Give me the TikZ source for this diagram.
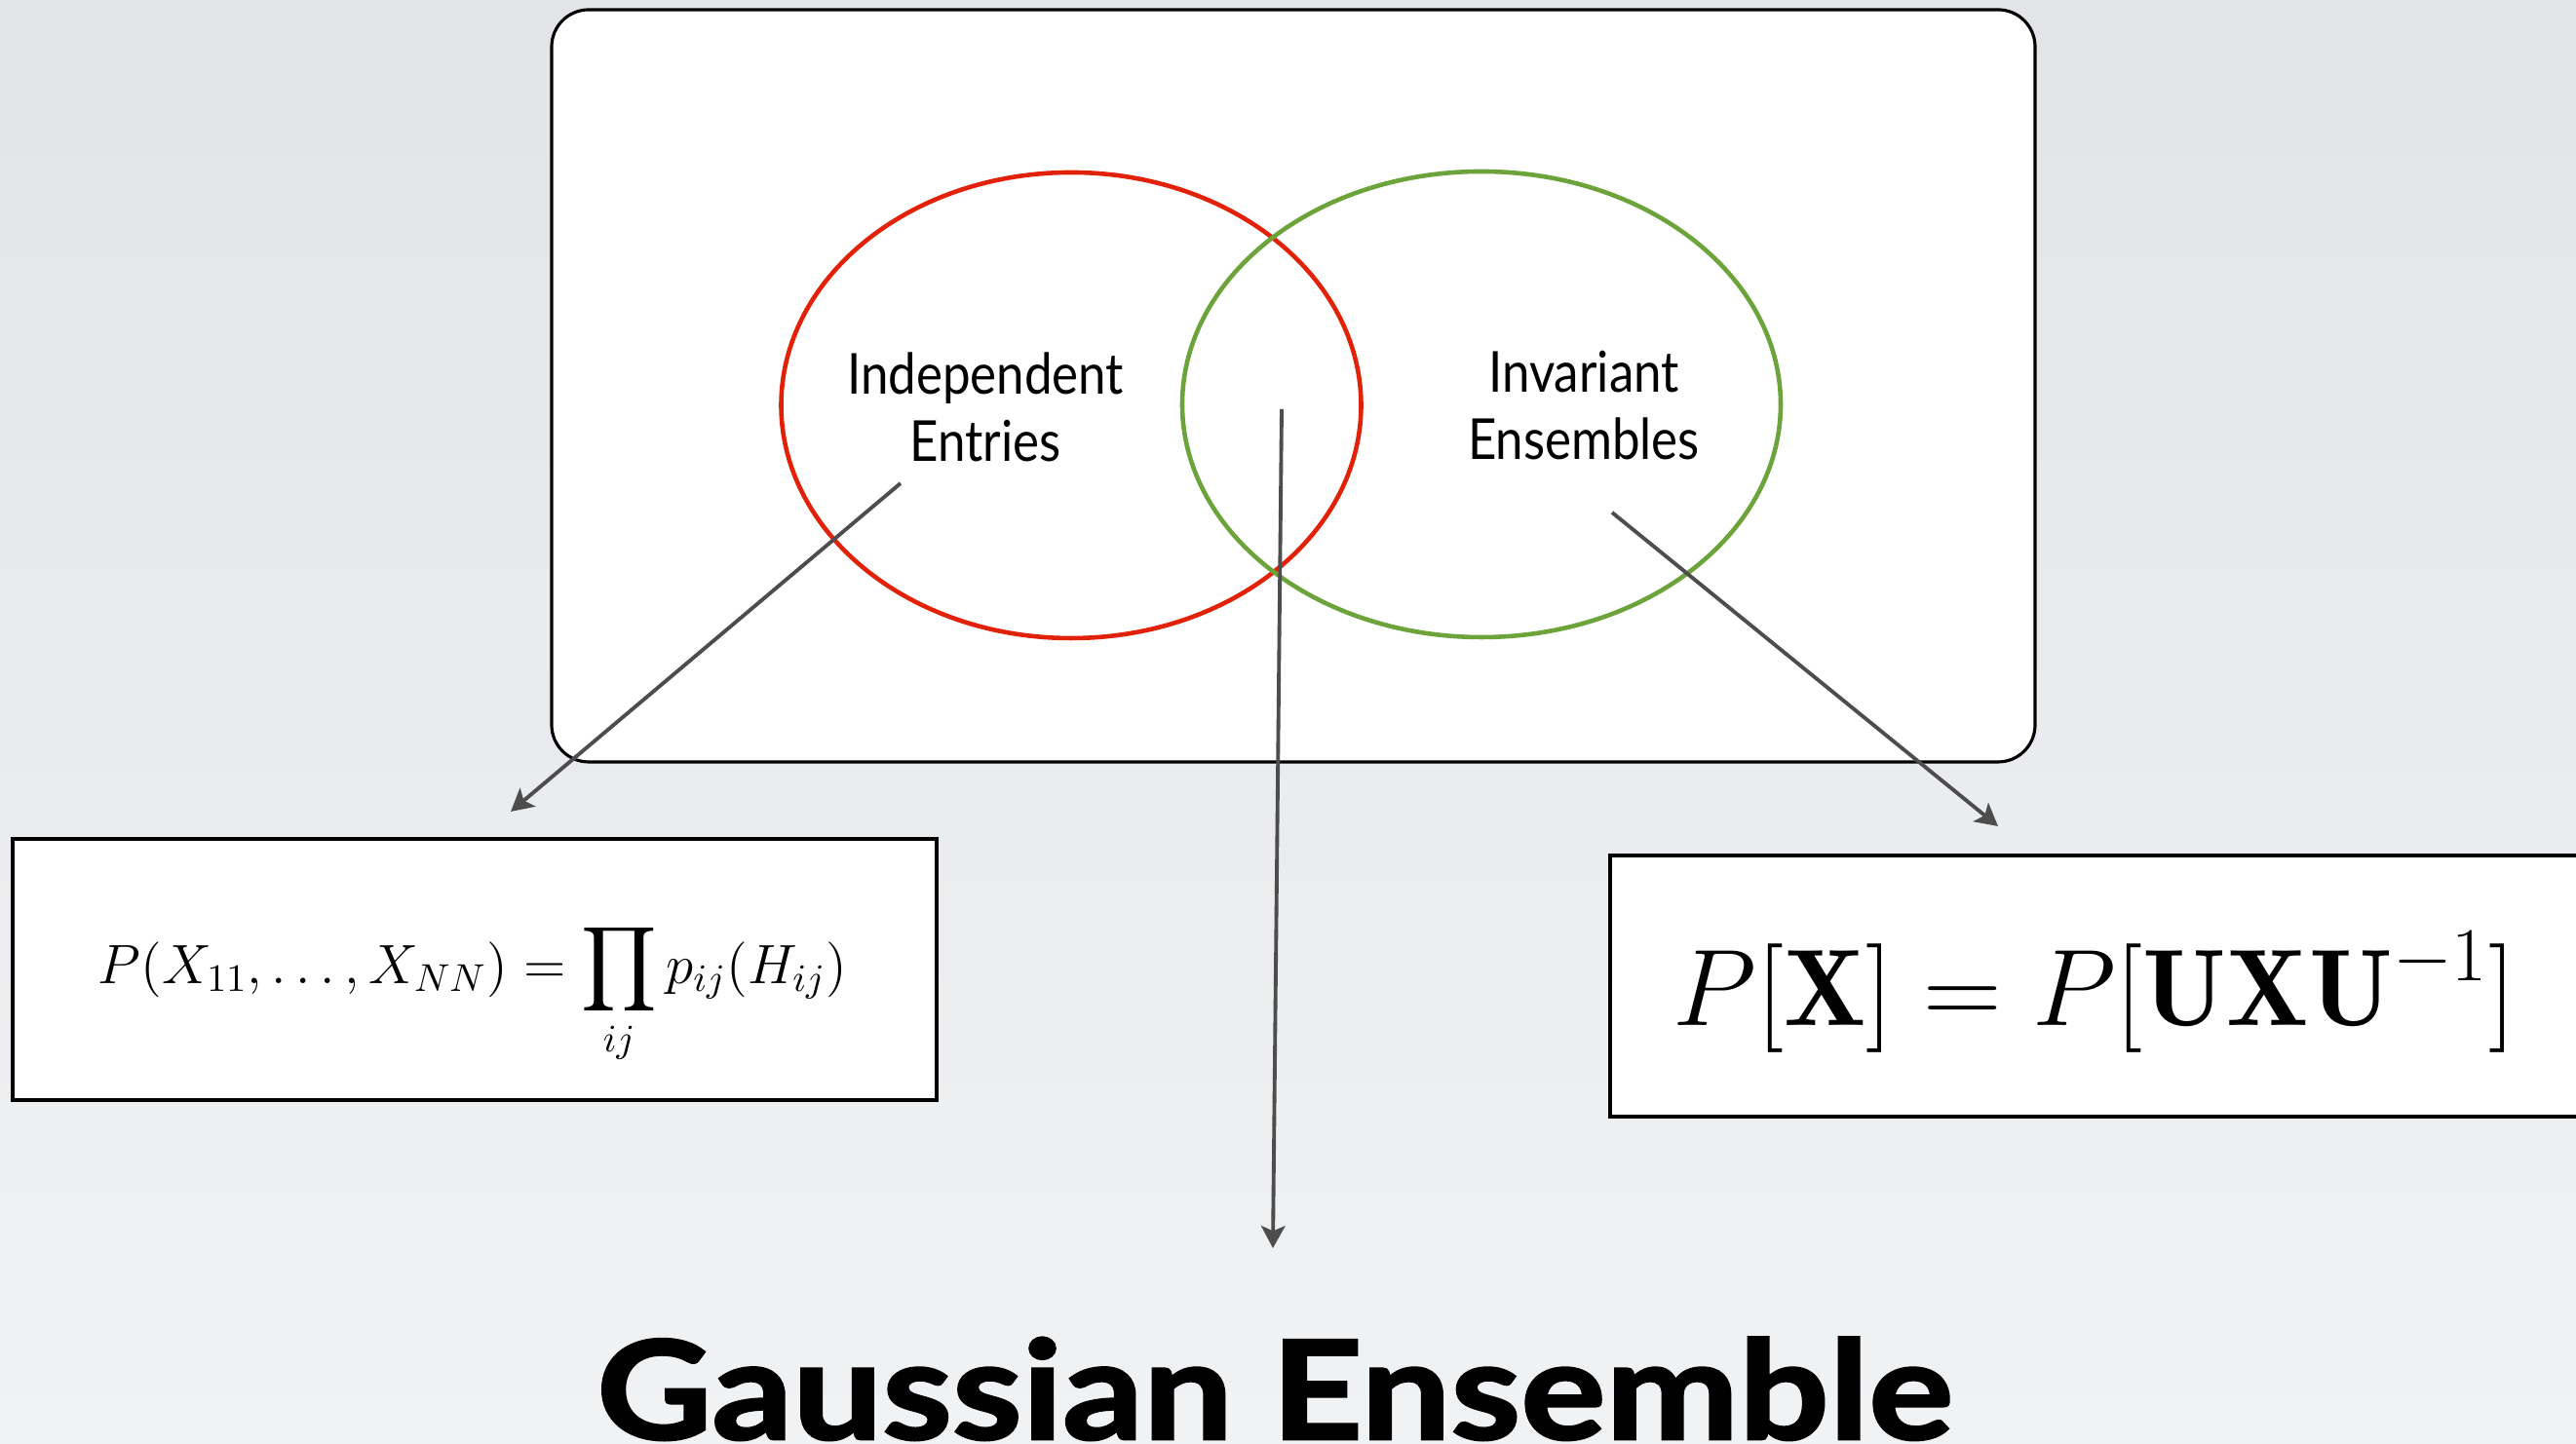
\RequirePackage{fix-cm}
\documentclass[tikz,border=0pt]{standalone}
\usepackage{amsmath}
\usepackage{fontspec}
\newfontfamily\vennfont[FakeStretch=0.88]{Lato}
\newfontfamily\titlefont[BoldFeatures={FakeBold=2, FakeStretch=1.16}]{Lato}
\usetikzlibrary{positioning, arrows.meta, shapes.geometric}
\definecolor{vennred}{RGB}{226,34,8}
\definecolor{venngreen}{RGB}{108,163,58}
\definecolor{arrgray}{RGB}{77,77,77}
\definecolor{bgtop}{RGB}{226,228,232}
\definecolor{bgbot}{RGB}{241,242,244}
\tikzset{
    outerbox/.style={rectangle, rounded corners=0.38cm, draw=black, fill=white, line width=0.9pt, minimum width=15.22cm, minimum height=7.72cm},
    setring/.style={ellipse, draw=#1, line width=1.3pt, inner sep=0pt},
    setlbl/.style={font=\vennfont\fontsize{16.5}{19.5}\selectfont, align=center},
    formbox/.style={rectangle, draw=black, fill=white, line width=0.9pt, minimum height=2.68cm, inner sep=0pt},
    arr/.style={-{Stealth[length=6.5pt, width=7pt, inset=1.5pt]}, line width=1.1pt, color=arrgray}
}

\begin{document}
\begin{tikzpicture}
    \useasboundingbox (0,0) rectangle (26.43,14.82);
    \fill[top color=bgtop, bottom color=bgbot] (0,0) rectangle (26.43,14.82);

    \node[outerbox] (frame) at (13.27,10.86) {};
    \node[setring=vennred, minimum width=5.95cm, minimum height=4.78cm] (indep) at (10.99,10.66) {};
    \node[setring=venngreen, minimum width=6.14cm, minimum height=4.78cm] (invar) at (15.20,10.67) {};
    \node[setlbl] (indeplbl) at (10.11,10.64) {Independent\\Entries};
    \node[setlbl] (invarlbl) at (16.25,10.66) {Invariant\\Ensembles};

    \node[formbox, minimum width=9.48cm] (leftbox) at (4.87,4.87) {};
    \node[font=\fontsize{16.2}{20}\selectfont] (leftform) at (4.85,4.62)
        {$\displaystyle P(X_{11},\ldots,X_{NN}) = \prod_{ij} p_{ij}(H_{ij})$};
    \node[formbox, minimum width=9.98cm] (rightbox) at (21.51,4.70) {};
    \node[font=\fontsize{31.8}{36}\selectfont] (rightform) at (21.49,4.64)
        {$P[\mathbf{X}] = P[\mathbf{UXU}^{-1}]$};

    \coordinate (s1) at (9.24,9.86);
    \coordinate (e1) at (5.24,6.49);
    \coordinate (s2) at (13.15,10.62);
    \coordinate (e2) at (13.06,2.01);
    \coordinate (s3) at (16.54,9.56);
    \coordinate (e3) at (20.50,6.34);
    \draw[arr] (s1) -- (e1);
    \draw[arr] (s2) -- (e2);
    \draw[arr] (s3) -- (e3);

    \node[font=\titlefont\bfseries\fontsize{40}{40}\selectfont, anchor=base, inner sep=0pt] (title) at (13.08,0.05) {Gaussian Ensemble};
\end{tikzpicture}
\end{document}
